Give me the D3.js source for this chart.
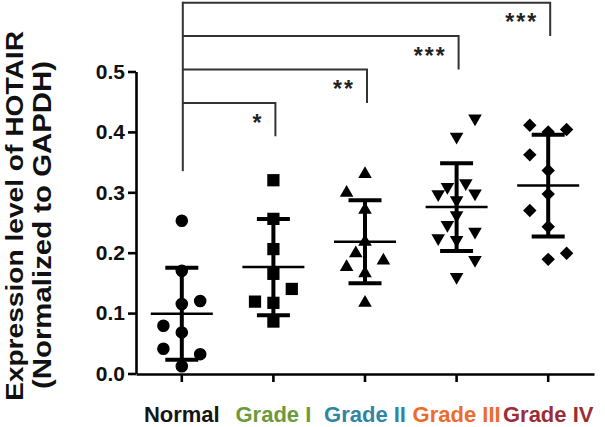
<!DOCTYPE html>
<html>
<head>
<meta charset="utf-8">
<script src="https://cdn.jsdelivr.net/npm/d3@7"></script>
<style>
  html, body { margin: 0; padding: 0; background: #fff; }
  svg { display: block; }
  text { font-family: "Liberation Sans", Arial, Helvetica, sans-serif; }
</style>
</head>
<body>
<div id="chart"></div>
<script>
// ---------- data ----------
const categories = ["Normal", "Grade I", "Grade II", "Grade III", "Grade IV"];
const normalValues = [0.253, 0.170, 0.120, 0.115, 0.079, 0.068, 0.041, 0.032, 0.012];
const gradeIValues = [0.320, 0.256, 0.206, 0.165, 0.140, 0.119, 0.117, 0.086];
const gradeIIValues = [0.330, 0.299, 0.271, 0.218, 0.199, 0.187, 0.176, 0.166, 0.117];
const gradeIIIValues = [0.4225, 0.392, 0.309, 0.315, 0.297, 0.298, 0.287, 0.262, 0.246, 0.224, 0.235, 0.221, 0.188, 0.160];
const gradeIVValues = [0.411, 0.404, 0.400, 0.362, 0.336, 0.297, 0.270, 0.243, 0.199, 0.189];
const yTicks = [0.0, 0.1, 0.2, 0.3, 0.4, 0.5];
const significance = ["*", "**", "***", "***"]; // Normal vs Grade I..IV

// scatter jitter slots (layout only)
const normalJitter = [0, 0, 2, 0, -2, 0, -2, 2, 0];
const gradeIJitter = [0, 0, 0, 0, 2, -2, 0, 0];
const gradeIIJitter = [0, -2, 0, 0, -1, 2, -2, 0, 0];
const gradeIIIJitter = [2, 0, -1, 1, -2, 2, 0, 0, -1, -2, 2, 0, 2, 0];
const gradeIVJitter = [-2, 2, 0, -2, 0, 0, -2, 0, 2, 0];

const groupValues = [normalValues, gradeIValues, gradeIIValues, gradeIIIValues, gradeIVValues];
const groupJitter = [normalJitter, gradeIJitter, gradeIIJitter, gradeIIIJitter, gradeIVJitter];
const labelColors = ["#151515", "#6b9a3c", "#2f86a2", "#ec6c2c", "#9a2e37"];
const symbolTypes = ["circle", "square", "triangle", "down", "diamond"];

// ---------- layout ----------
const W = 605, H = 427;
const svg = d3.select("#chart").append("svg").attr("width", W).attr("height", H);

const y = d3.scaleLinear().domain([0, 0.5]).range([373.5, 71.5]);
const x = d3.scaleBand().domain(categories).range([136, 594]).padding(0);
const cx = c => x(c) + x.bandwidth() / 2;
const laneUnit = 9.2;

// ---------- axes ----------
const yAxis = svg.append("g")
  .attr("transform", "translate(136,0)")
  .call(d3.axisLeft(y).tickValues(yTicks).tickFormat(d3.format(".1f")).tickSize(8).tickSizeOuter(0).tickPadding(3));
yAxis.select(".domain").attr("stroke", "#000").attr("stroke-width", 2.6);
yAxis.selectAll(".tick line").attr("stroke", "#000").attr("stroke-width", 2.6);
yAxis.selectAll(".tick text")
  .attr("fill", "#111").style("font-size", "21px").style("font-weight", "bold")
  .style("font-family", "'Liberation Sans', Arial, sans-serif");

const xAxis = svg.append("g")
  .attr("transform", "translate(0,374)")
  .call(d3.axisBottom(x).tickSize(8).tickSizeOuter(0).tickPadding(24));
xAxis.select(".domain").attr("stroke", "#000").attr("stroke-width", 2.6);
xAxis.selectAll(".tick line").attr("stroke", "#000").attr("stroke-width", 2.6);
xAxis.selectAll(".tick text")
  .attr("fill", (d, i) => labelColors[i])
  .style("font-size", "22px").style("font-weight", "bold")
  .style("font-family", "'Liberation Sans', Arial, sans-serif");

// ---------- y title ----------
svg.append("text")
  .attr("transform", "translate(23,216) rotate(-90)")
  .attr("text-anchor", "middle")
  .attr("textLength", 370).attr("lengthAdjust", "spacingAndGlyphs")
  .style("font-size", "24px").style("font-weight", "bold").attr("fill", "#111")
  .text("Expression level of HOTAIR");
svg.append("text")
  .attr("transform", "translate(51,225) rotate(-90)")
  .attr("text-anchor", "middle")
  .attr("textLength", 328).attr("lengthAdjust", "spacingAndGlyphs")
  .style("font-size", "25px").style("font-weight", "bold").attr("fill", "#111")
  .text("(Normalized to GAPDH)");

// ---------- symbols ----------
const symGen = {
  circle: d3.symbol().type(d3.symbolCircle).size(124),
  square: d3.symbol().type(d3.symbolSquare).size(150),
  triangle: d3.symbol().type(d3.symbolTriangle).size(80),
  down: d3.symbol().type(d3.symbolTriangle).size(80),
  diamond: d3.symbol().type(d3.symbolSquare).size(90)
};
const symRot = { circle: 0, square: 0, triangle: 0, down: 180, diamond: 45 };

categories.forEach((cat, gi) => {
  const vals = groupValues[gi];
  const jit = groupJitter[gi];
  const cxv = cx(cat);
  const type = symbolTypes[gi];
  const g = svg.append("g");

  g.selectAll("path.pt")
    .data(vals.map((v, i) => ({ v, j: jit[i] })))
    .join("path")
    .attr("class", "pt")
    .attr("d", symGen[type]())
    .attr("transform", d => `translate(${cxv + d.j * laneUnit},${y(d.v)}) rotate(${symRot[type]})`)
    .attr("fill", "#000");

  // mean & SD
  const m = d3.mean(vals);
  const sd = d3.deviation(vals);
  const eb = svg.append("g").attr("stroke", "#000");
  eb.append("line").attr("x1", cxv).attr("x2", cxv).attr("y1", y(m + sd)).attr("y2", y(m - sd)).attr("stroke-width", 4);
  eb.append("line").attr("x1", cxv - 16.5).attr("x2", cxv + 16.5).attr("y1", y(m + sd)).attr("y2", y(m + sd)).attr("stroke-width", 4);
  eb.append("line").attr("x1", cxv - 16.5).attr("x2", cxv + 16.5).attr("y1", y(m - sd)).attr("y2", y(m - sd)).attr("stroke-width", 4);
  eb.append("line").attr("x1", cxv - 31).attr("x2", cxv + 31).attr("y1", y(m)).attr("y2", y(m)).attr("stroke-width", 2.5);
});

// ---------- significance brackets ----------
const bracketBase = 0.448, bracketStep = 0.0553;
const br = svg.append("g").attr("stroke", "#333").attr("stroke-width", 2).attr("fill", "none");
const leftX = cx(categories[0]) + 1;
br.append("line").attr("x1", leftX).attr("x2", leftX)
  .attr("y1", y(bracketBase + 3 * bracketStep) - 1).attr("y2", y(0.335));
significance.forEach((s, i) => {
  const lv = bracketBase + i * bracketStep;
  const rx = cx(categories[i + 1]) + 2;
  br.append("path")
    .attr("d", `M${leftX},${y(lv)}H${rx}V${y(lv - bracketStep)}`);
  svg.append("text")
    .attr("x", rx - 12).attr("y", (y(lv) + y(lv - bracketStep)) / 2 + 11)
    .attr("text-anchor", "end")
    .style("font-size", "23px").style("font-weight", "bold").style("letter-spacing", "2px")
    .attr("fill", "#222")
    .text(s);
});
</script>
</body>
</html>
